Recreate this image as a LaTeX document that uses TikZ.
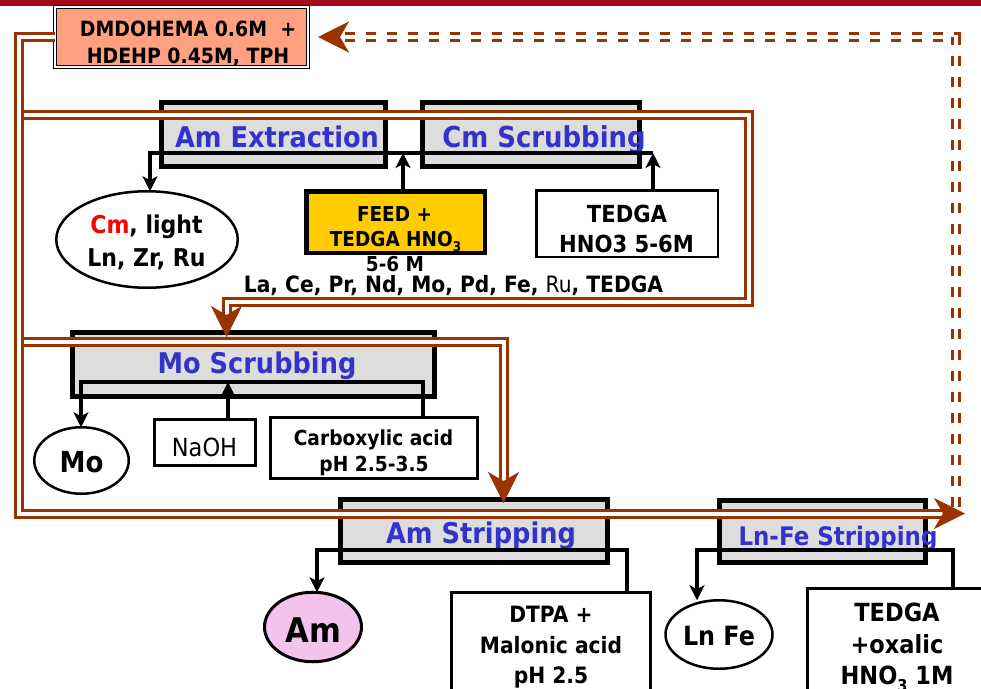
\documentclass[tikz,border=0pt]{standalone}
\usepackage{fontspec}
\setmainfont{DejaVu Sans}[FakeStretch=0.9]
\usetikzlibrary{arrows.meta,shapes.geometric}
\definecolor{brn}{HTML}{993300}
\definecolor{ttl}{HTML}{3333CC}
\definecolor{grayfill}{HTML}{DDDDDD}
\definecolor{salmon}{HTML}{FFA080}
\definecolor{feedy}{HTML}{FFCC00}
\definecolor{pinkam}{HTML}{F4C3EC}
\definecolor{topbar}{HTML}{A30B1A}
\newcommand{\myfsz}[1]{\fontsize{#1pt}{#1pt}\selectfont}
\newcommand{\mysub}[1]{\raisebox{-0.28em}{\fontsize{0.65em}{0.65em}\selectfont #1}}
\begin{document}
\begin{tikzpicture}[x=1pt,y=-1pt,
  proc/.style={draw=black, line width=4.8pt, fill=grayfill, rectangle, inner sep=0pt, outer sep=0pt},
  wbox/.style={draw=black, fill=white, rectangle, inner sep=0pt, outer sep=0pt},
  oval/.style={draw=black, ellipse, inner sep=0pt, outer sep=0pt},
  ttxt/.style={anchor=base, inner sep=0pt, outer sep=0pt},
  ptitle/.style={ttxt, text=ttl},
  conn/.style={draw=black, line width=4pt},
  arrowk/.style={-{Stealth[length=15pt,width=15pt,inset=4pt]}},
  flow/.style={draw=brn, line width=3pt, double=white, double distance=4pt},
  brarrow/.style={-{Stealth[length=31pt,width=31pt,inset=9pt]}},
  dflow/.style={flow, dash pattern=on 10pt off 11pt},
]
\useasboundingbox (0,0) rectangle (981,688);
\clip (0,0) rectangle (981,688);
\fill[topbar] (0,0) rectangle (981,6);

% process boxes
\node[proc, minimum width=224.5pt, minimum height=64.5pt] (amx) at (273.5,134.5) {};
\node[proc, minimum width=217.5pt, minimum height=64.5pt] (cms) at (531,134.5) {};
\node[proc, minimum width=362.5pt, minimum height=64.5pt] (mos) at (253.5,364.5) {};
\node[proc, minimum width=267.5pt, minimum height=63.5pt] (ams) at (474,531) {};
\node[proc, minimum width=206.5pt, minimum height=62.5pt] (lns) at (822.5,531.5) {};

\node[ptitle, font=\myfsz{28.5}\bfseries] (amxT) at (277,147) {Am Extraction};
\node[ptitle, font=\myfsz{28.8}\bfseries] (cmsT) at (544,147) {Cm Scrubbing};
\node[ptitle, font=\myfsz{28.5}\bfseries] (mosT) at (257,373) {Mo Scrubbing};
\node[ptitle, font=\myfsz{28.5}\bfseries] (amsT) at (481,543) {Am Stripping};
\node[ptitle, font=\myfsz{25.5}\bfseries] (lnsT) at (838,545) {Ln-Fe Stripping};

% solvent box
\node[draw=black, line width=1.4pt, double=white, double distance=1.5pt, fill=salmon,
      minimum width=253pt, minimum height=60pt, inner sep=0pt, outer sep=0pt] (solv) at (181.5,37) {};
\node[ttxt, font=\myfsz{21}\bfseries] (solv1) at (188,36) {DMDOHEMA 0.6M~~+};
\node[ttxt, font=\myfsz{21}\bfseries] (solv2) at (188,63) {HDEHP 0.45M, TPH};

% Am extraction group
\node[oval, line width=2.5pt, minimum width=181.5pt, minimum height=96.5pt] (cmE) at (147,239.5) {};
\node[ttxt, font=\myfsz{24.5}\bfseries] (cmE1) at (146.5,233) {\textcolor{red}{Cm}, light};
\node[ttxt, font=\myfsz{24.5}\bfseries] (cmE2) at (146.5,266) {Ln, Zr, Ru};

\node[wbox, fill=feedy, line width=4.5pt, minimum width=178.5pt, minimum height=61.5pt] (feed) at (395.5,222) {};
\node[ttxt, font=\myfsz{20.5}\bfseries] (feed1) at (394.5,221) {FEED +};
\node[ttxt, font=\myfsz{20.5}\bfseries] (feed2) at (395.5,246) {TEDGA HNO\mysub{3}};
\node[ttxt, font=\myfsz{20.5}\bfseries] (feed3) at (395,271) {5-6 M};

\node[wbox, line width=2.5pt, minimum width=181.5pt, minimum height=66.5pt] (tedA) at (627,223.5) {};
\node[ttxt, font=\myfsz{23.5}\bfseries] (tedA1) at (627,222) {TEDGA};
\node[ttxt, font=\myfsz{23.5}\bfseries] (tedA2) at (626.5,252) {HNO3 5-6M};

\node[ttxt, font=\myfsz{22.5}\bfseries] (lnlist) at (453.5,292) {La, Ce, Pr, Nd, Mo, Pd, Fe, \textmd{Ru}, TEDGA};

% Mo scrubbing group
\node[oval, line width=2.5pt, minimum width=94.5pt, minimum height=66.5pt] (moE) at (81.5,460.5) {};
\node[ttxt, font=\myfsz{29}\bfseries] (moE1) at (81.5,472) {Mo};
\node[wbox, line width=3pt, minimum width=101pt, minimum height=46pt] (naoh) at (205,442.5) {};
\node[ttxt, font=\myfsz{25}] (naoh1) at (204.5,456) {NaOH};
\node[wbox, line width=3pt, minimum width=207pt, minimum height=61pt] (carb) at (374,448) {};
\node[ttxt, font=\myfsz{20.7}\bfseries] (carb1) at (373.5,445) {Carboxylic acid};
\node[ttxt, font=\myfsz{20.7}\bfseries] (carb2) at (374,471) {pH 2.5-3.5};

% Am stripping group
\node[oval, line width=3pt, fill=pinkam, minimum width=97pt, minimum height=69.5pt] (amE) at (313,627) {};
\node[ttxt, font=\myfsz{34}\bfseries] (amE1) at (313.5,642) {Am};
\node[wbox, line width=3pt, minimum width=199pt, minimum height=116pt] (dtpa) at (551,650.5) {};
\node[ttxt, font=\myfsz{22.5}\bfseries] (dtpa1) at (551,622) {DTPA +};
\node[ttxt, font=\myfsz{22.5}\bfseries] (dtpa2) at (551,653) {Malonic acid};
\node[ttxt, font=\myfsz{22.5}\bfseries] (dtpa3) at (551,683) {pH 2.5};

% Ln-Fe stripping group
\node[oval, line width=2.5pt, minimum width=107pt, minimum height=68.5pt] (lnE) at (719,634.5) {};
\node[ttxt, font=\myfsz{26.5}\bfseries] (lnE1) at (719,645) {Ln Fe};
\node[wbox, line width=3pt, minimum width=186pt, minimum height=120pt] (tedB) at (900.5,648.5) {};
\node[ttxt, font=\myfsz{25}\bfseries] (tedB1) at (897,621) {TEDGA};
\node[ttxt, font=\myfsz{25}\bfseries] (tedB2) at (897,653) {+oxalic};
\node[ttxt, font=\myfsz{25}\bfseries] (tedB3) at (897,684) {HNO\mysub{3} 1M};

% black connectors
\coordinate (ja) at (653,153);
\coordinate (jb) at (150,153);
\coordinate (jf) at (403,153);
\draw[conn, arrowk] (ja |- tedA.north) -- (ja);
\draw[conn, arrowk] (jf |- feed.north) -- (jf);
\draw[conn, arrowk] (ja) -- (jb) -- (jb |- cmE.north);

\coordinate (jm1) at (81,382);
\coordinate (jm2) at (423,382);
\coordinate (jn) at (228,382);
\draw[conn, arrowk] (jm2 |- carb.north) -- (jm2) -- (jm1) -- (jm1 |- moE.north);
\draw[conn, arrowk] (jn |- naoh.north) -- (jn);

\coordinate (js1) at (317,550);
\coordinate (js2) at (627,550);
\draw[conn, arrowk] (js2 |- dtpa.north) -- (js2) -- (js1) -- (js1 |- amE.north);

\coordinate (jl1) at (697,550);
\coordinate (jl2) at (953,550);
\draw[conn, arrowk] (jl2 |- tedB.north) -- (jl2) -- (jl1) -- (jl1 |- lnE.north);

% brown flows
\coordinate (cL1) at (18.5,37);
\coordinate (cL2) at (18.5,513.5);
\coordinate (fEnd) at (965,513.5);
\draw[flow, brarrow] (solv.west) -- (cL1) -- (cL2) -- (fEnd);

\coordinate (b1s) at (23.5,114.75);
\coordinate (b1a) at (748.5,114.75);
\coordinate (b1b) at (748.5,301.5);
\coordinate (b1c) at (226.5,301.5);
\coordinate (b1e) at (226.5,337);
\draw[flow, brarrow] (b1s) -- (b1a) -- (b1b) -- (b1c) -- (b1e);

\coordinate (b2s) at (23.5,342);
\coordinate (b2a) at (503.5,342);
\coordinate (b2e) at (503.5,503);
\draw[flow, brarrow] (b2s) -- (b2a) -- (b2e);

\coordinate (dS) at (956,507);
\coordinate (dC) at (956,37);
\coordinate (dE) at (318,37);
\draw[dflow, brarrow] (dS) -- (dC) -- (dE);
\end{tikzpicture}
\end{document}
